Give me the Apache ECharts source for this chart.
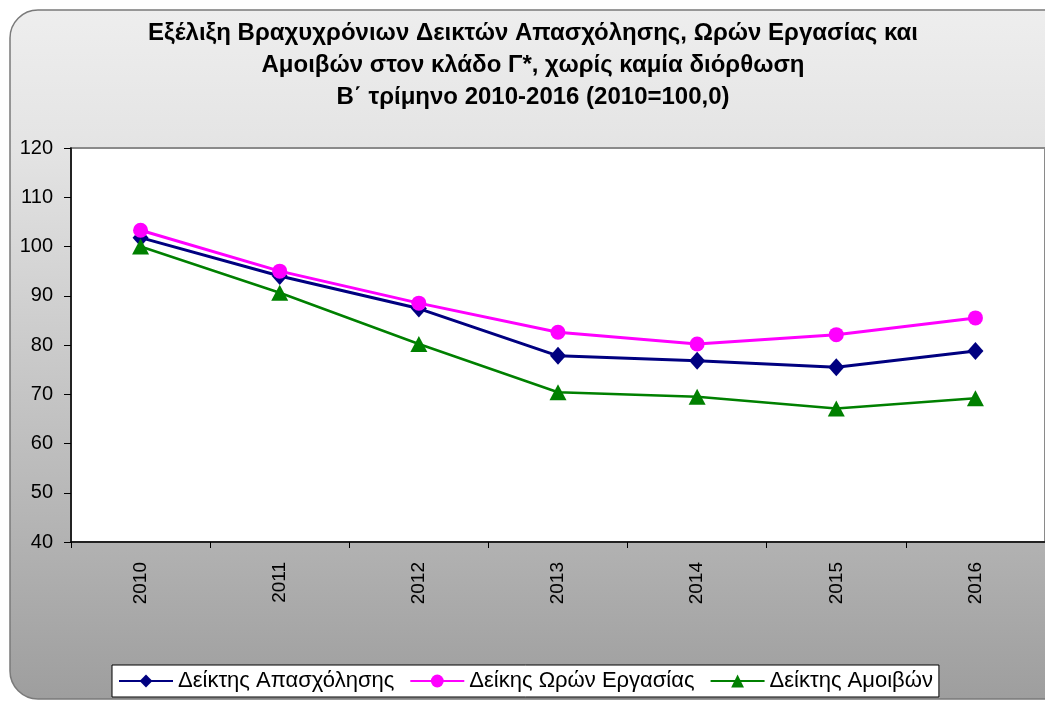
<!DOCTYPE html>
<html>
<head>
<meta charset="utf-8">
<title>Δείκτες Απασχόλησης, Ωρών Εργασίας και Αμοιβών</title>
<script src="https://cdn.jsdelivr.net/npm/echarts@6/dist/echarts.min.js"></script>
<style>
  html, body { margin: 0; padding: 0; background: #ffffff; }
  #chart { width: 1045px; height: 701px; }
</style>
</head>
<body>
<div id="chart"></div>
<script>
// έτη (Β΄ τρίμηνο)
var years = ['2010', '2011', '2012', '2013', '2014', '2015', '2016'];
// τιμές δεικτών, όπως διαβάζονται από το γράφημα
var apasxolisi = [101.8, 94.0, 87.4, 77.8, 76.8, 75.5, 78.8];
var oresErgasias = [103.3, 95.0, 88.5, 82.6, 80.2, 82.1, 85.5];
var amoives = [100.0, 90.6, 80.2, 70.4, 69.5, 67.1, 69.2];
var seriesNames = ['Δείκτης Απασχόλησης', 'Δείκης Ωρών Εργασίας', 'Δείκτης Αμοιβών'];

var font = 'Arial, "Liberation Sans", sans-serif';

var chart = echarts.init(document.getElementById('chart'));

var option = {
  animation: false,
  textStyle: { fontFamily: font },
  graphic: {
    elements: [{
      // γκρι πλαίσιο με στρογγυλές γωνίες
      type: 'rect',
      z: -10,
      silent: true,
      shape: { x: 10, y: 10, width: 1070, height: 689, r: 28 },
      style: {
        fill: new echarts.graphic.LinearGradient(0, 0, 0, 1, [
          { offset: 0, color: '#eeeeee' },
          { offset: 0.2, color: '#e4e4e4' },
          { offset: 1, color: '#9e9e9e' }
        ]),
        stroke: '#7a7a7a',
        lineWidth: 1.5
      }
    }]
  },
  title: {
    text: 'Εξέλιξη Βραχυχρόνιων Δεικτών Απασχόλησης, Ωρών Εργασίας και\nΑμοιβών στον κλάδο Γ*, χωρίς καμία διόρθωση\nΒ΄ τρίμηνο 2010-2016 (2010=100,0)',
    left: 533,
    top: 17,
    padding: 0,
    textAlign: 'center',
    textStyle: {
      fontFamily: font,
      fontSize: 24,
      fontWeight: 'bold',
      color: '#000',
      lineHeight: 32
    }
  },
  legend: {
    data: seriesNames,
    left: 112,
    top: 665,
    padding: [5, 6, 5, 6],
    itemGap: 15,
    itemWidth: 54,
    itemHeight: 16,
    backgroundColor: '#ffffff',
    borderColor: '#000000',
    borderWidth: 1,
    borderRadius: 0,
    textStyle: { fontFamily: font, fontSize: 22, color: '#000' }
  },
  grid: {
    left: 71,
    top: 148,
    width: 974,
    bottom: 159,
    show: true,
    backgroundColor: '#ffffff',
    borderColor: '#8a8a8a',
    borderWidth: 2,
    containLabel: false
  },
  xAxis: {
    type: 'category',
    data: years,
    boundaryGap: true,
    axisLine: { lineStyle: { color: '#000', width: 1.5 } },
    axisTick: { show: true, length: 6, lineStyle: { color: '#000' } },
    axisLabel: {
      rotate: 90,
      margin: 20,
      fontFamily: font,
      fontSize: 19,
      color: '#000'
    },
    splitLine: { show: false }
  },
  yAxis: {
    type: 'value',
    min: 40,
    max: 120,
    interval: 10,
    axisLine: { show: true, lineStyle: { color: '#000', width: 1.5 } },
    axisTick: { show: true, length: 7, lineStyle: { color: '#000' } },
    axisLabel: {
      margin: 18,
      fontFamily: font,
      fontSize: 20,
      color: '#000'
    },
    splitLine: { show: false }
  },
  series: [
    {
      name: seriesNames[0],
      type: 'line',
      data: apasxolisi,
      symbol: 'diamond',
      symbolSize: [16, 18],
      color: '#000080',
      lineStyle: { width: 3, color: '#000080' },
      itemStyle: { color: '#000080' }
    },
    {
      name: seriesNames[1],
      type: 'line',
      data: oresErgasias,
      symbol: 'circle',
      symbolSize: 15,
      color: '#ff00ff',
      lineStyle: { width: 3, color: '#ff00ff' },
      itemStyle: { color: '#ff00ff' }
    },
    {
      name: seriesNames[2],
      type: 'line',
      data: amoives,
      symbol: 'triangle',
      symbolSize: [17, 16],
      color: '#008000',
      lineStyle: { width: 2.5, color: '#008000' },
      itemStyle: { color: '#008000' }
    }
  ]
};

chart.setOption(option);
</script>
</body>
</html>
